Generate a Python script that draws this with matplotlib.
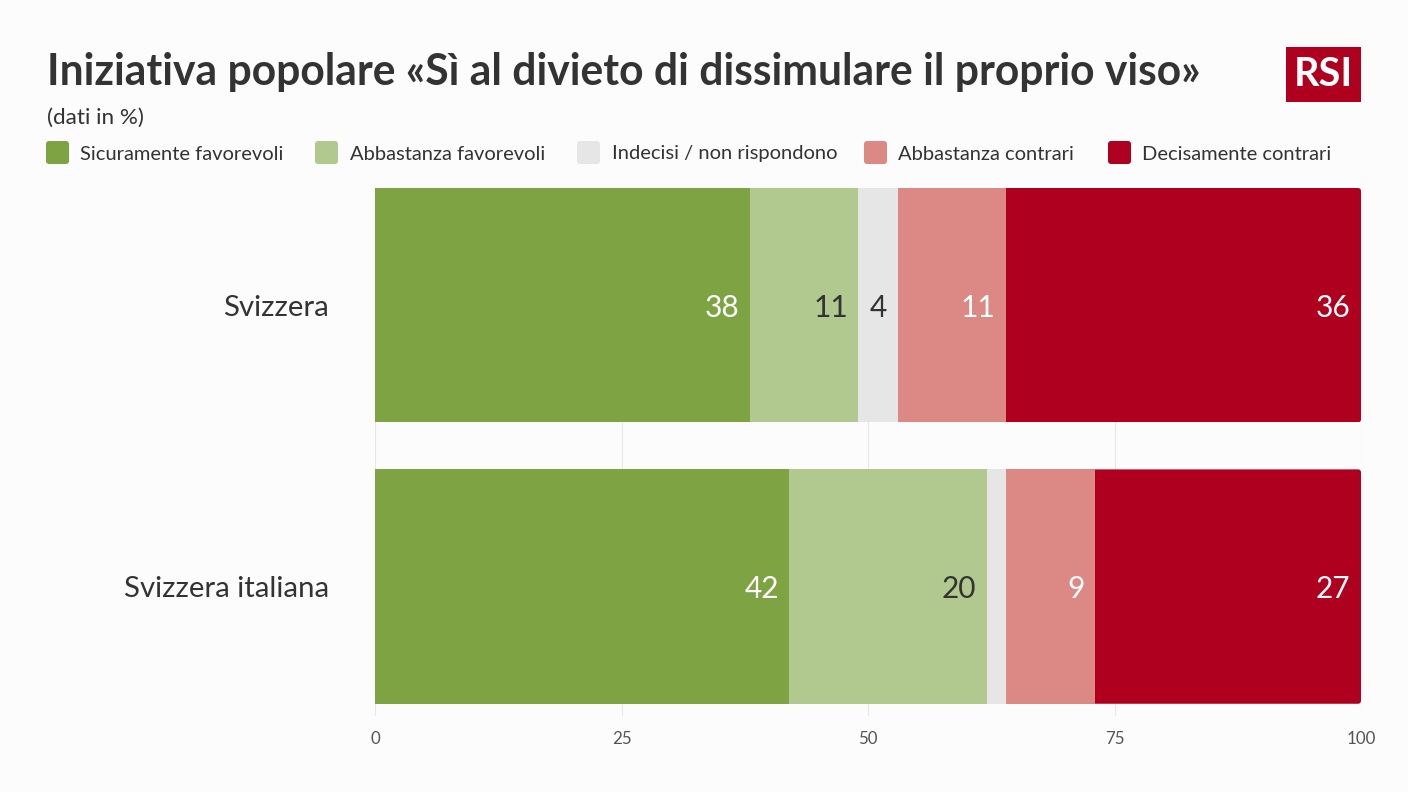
import numpy as np
import matplotlib
matplotlib.use('Agg')
import matplotlib.pyplot as plt
from matplotlib.patches import FancyBboxPatch, Rectangle

plt.rcParams['font.family'] = ['Lato', 'DejaVu Sans']

W, H = 1408, 792
BG = '#fcfcfc'
DARK = '#333333'

# dati
categories = ['Svizzera', 'Svizzera italiana']
series_names = ['Sicuramente favorevoli', 'Abbastanza favorevoli',
                'Indecisi / non rispondono', 'Abbastanza contrari',
                'Decisamente contrari']
sicuramente_fav = [38, 42]
abbastanza_fav = [11, 20]
indecisi = [4, 2]
abbastanza_con = [11, 9]
decisamente_con = [36, 27]
series = [sicuramente_fav, abbastanza_fav, indecisi, abbastanza_con, decisamente_con]
xticks = [0, 25, 50, 75, 100]

colors = ['#7ea343', '#b1c98f', '#e6e6e6', '#dc8884', '#b00020']
label_colors = ['white', DARK, DARK, 'white', 'white']
# il 2 degli indecisi non ha etichetta nell'originale
MIN_LABEL = 3


def px(x, y):
    """Pixel dell'immagine -> coordinate figura."""
    return x / W, 1 - y / H


fig = plt.figure(figsize=(W / 100, H / 100), dpi=100, facecolor=BG)

# assi: x 375-1361, y 188-716
ax = fig.add_axes([375.5 / W, 1 - 716 / H, (1361 - 375.5) / W, (716 - 188) / H], facecolor='none')
ax.set_xlim(0, 100)
ax.set_ylim(1.46, -0.4165)
for s in ax.spines.values():
    s.set_visible(False)

ax.set_xticks(xticks)
ax.set_yticks(range(len(categories)))
ax.set_yticklabels(categories, fontsize=21.2, color=DARK)
ax.tick_params(axis='y', length=0, pad=33.5)
ax.tick_params(axis='x', length=0, pad=11, labelsize=12.2, labelcolor='#555555')
ax.grid(axis='x', color='#e8e8e8', linewidth=0.8, zorder=0)
ax.set_axisbelow(True)

# barre impilate
left = np.zeros(len(categories))
bar_h = 0.833
for vals, col, lab_col in zip(series, colors, label_colors):
    bars = ax.barh(range(len(categories)), vals, left=left, height=bar_h,
                   color=col, linewidth=0, zorder=3)
    for i, v in enumerate(vals):
        if v >= MIN_LABEL:
            ax.annotate(str(v), xy=(left[i] + v, i), xytext=(-7.6, 0),
                        textcoords='offset points', ha='right', va='center_baseline',
                        fontsize=21.5, color=lab_col, zorder=4)
    left = left + np.array(vals)

# angoli arrotondati a destra (solo l'estremita' delle barre)
y_over_x = (281.5 / 1) / (985.5 / 100)
for i, b in enumerate(bars):
    clip = FancyBboxPatch((-5, i - bar_h / 2), 105, bar_h,
                          boxstyle='round,pad=0,rounding_size=0.3',
                          mutation_aspect=1 / y_over_x,
                          transform=ax.transData, facecolor='none', edgecolor='none')
    ax.add_patch(clip)
    b.set_clip_path(clip)

# titolo e sottotitolo
fig.text(*px(47, 72), 'Iniziativa popolare «Sì al divieto di dissimulare il proprio viso»',
         fontsize=30.7, fontweight='bold', color=DARK, ha='left', va='center')
fig.text(*px(47, 118), '(dati in %)', fontsize=16.2, color=DARK, ha='left', va='center')

# legenda
swatch_x = [46, 315, 577, 864, 1108]
for sx, name, col in zip(swatch_x, series_names, colors):
    fig.add_artist(FancyBboxPatch((sx, H - 164), 23, 23,
                                  boxstyle='round,pad=0,rounding_size=3',
                                  transform=None, facecolor=col, edgecolor='none'))
    fig.text(*px(sx + 34.5, 154), name, fontsize=14.5, color=DARK, ha='left', va='center')

# logo RSI
fig.add_artist(Rectangle(px(1286, 102), 75 / W, 55 / H, transform=fig.transFigure,
                         facecolor='#b00020', edgecolor='none'))
fig.text(*px(1323.5, 74.5), 'RSI', fontsize=28.5, fontweight='bold', color='white',
         ha='center', va='center')

fig.savefig('out.png', dpi=100, facecolor=BG)
